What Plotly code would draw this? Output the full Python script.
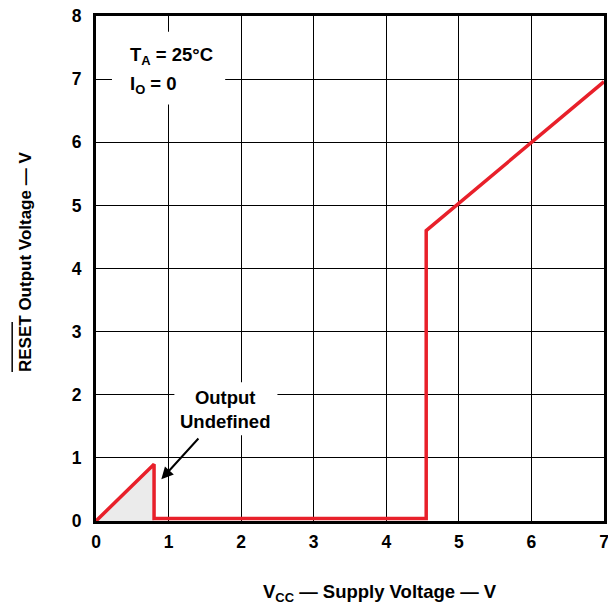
import plotly.graph_objects as go

# Data
vcc = [0.0, 0.8, 0.8, 4.55, 4.55, 7.0]
reset_v = [0.0, 0.9, 0.04, 0.04, 4.6, 6.96]
shade_x = [0.0, 0.8, 0.8, 0.0]
shade_y = [0.0, 0.9, 0.0, 0.0]
x_ticks = [0, 1, 2, 3, 4, 5, 6, 7]
y_ticks = [0, 1, 2, 3, 4, 5, 6, 7, 8]

FONT = "Liberation Sans"
FS = 18.5
TFS = 17.5

fig = go.Figure()
fig.add_trace(go.Scatter(x=shade_x, y=shade_y, fill="toself", mode="none",
                         fillcolor="#ebebeb", hoverinfo="skip", showlegend=False))
fig.add_trace(go.Scatter(x=vcc, y=reset_v, mode="lines",
                         line=dict(color="#e8202a", width=3.5), showlegend=False))

# white boxes hiding gridlines behind notes
fig.add_shape(type="rect", xref="x", yref="y", x0=0.22, x1=1.78, y0=6.6, y1=7.75,
              fillcolor="white", line=dict(width=0), layer="above")
fig.add_shape(type="rect", xref="x", yref="y", x0=1.08, x1=2.5, y0=1.36, y1=2.2,
              fillcolor="white", line=dict(width=0), layer="above")

fig.add_annotation(x=0.44, y=7.37, xref="x", yref="y", xanchor="left", yanchor="middle",
                   text="<b>T<sub>A</sub> = 25°C</b>", showarrow=False,
                   font=dict(family=FONT, size=FS, color="black"))
fig.add_annotation(x=0.44, y=6.91, xref="x", yref="y", xanchor="left", yanchor="middle",
                   text="<b>I<sub>O</sub> = 0</b>", showarrow=False,
                   font=dict(family=FONT, size=FS, color="black"))
fig.add_annotation(x=1.78, y=1.76, xref="x", yref="y",
                   text="<b>Output<br>Undefined</b>", showarrow=False,
                   align="center",
                   font=dict(family=FONT, size=FS, color="black"))
fig.add_annotation(x=0.9, y=0.66, ax=1.43, ay=1.33, xref="x", yref="y", axref="x", ayref="y",
                   text="", showarrow=True, arrowhead=2, arrowsize=1.2, arrowwidth=2,
                   arrowcolor="black")

# axis titles
fig.add_annotation(x=(380 - 96) / 508, y=0, xref="paper", yref="paper", yshift=-72,
                   text="<b>V<sub>CC</sub> — Supply Voltage — V</b>", showarrow=False,
                   xanchor="center", yanchor="middle",
                   font=dict(family=FONT, size=FS, color="black"))
fig.add_annotation(x=0, y=(521 - 262) / 505, xref="paper", yref="paper", xshift=-71,
                   text="<b>RESET Output Voltage — V</b>", showarrow=False, textangle=-90,
                   xanchor="center", yanchor="middle",
                   font=dict(family=FONT, size=17, color="black"))
# overline over RESET
fig.add_shape(type="line", xref="paper", yref="paper",
              x0=-0.1650, x1=-0.1650, y0=(521 - 372) / 505, y1=(521 - 322) / 505,
              line=dict(color="black", width=1.5))

axis_common = dict(showgrid=True, gridcolor="black", gridwidth=1.3, zeroline=False,
                   showline=True, linecolor="black", linewidth=3, mirror=True,
                   automargin=False, ticks="", ticklabeloverflow="allow",
                   tickfont=dict(family=FONT, size=TFS, color="black", weight="bold"))
fig.update_xaxes(range=[0, 7], tickvals=x_ticks, ticklabelstandoff=3, **axis_common)
fig.update_yaxes(range=[0, 8], tickvals=y_ticks, ticklabelstandoff=8, **axis_common)

fig.update_layout(width=608, height=605, margin=dict(l=96, r=4, t=16, b=84, autoexpand=False),
                  plot_bgcolor="white", paper_bgcolor="white", showlegend=False)

fig.write_html("out.html", config={"displayModeBar": False},
               post_script="document.body.style.margin='0';document.body.style.overflow='hidden';")
